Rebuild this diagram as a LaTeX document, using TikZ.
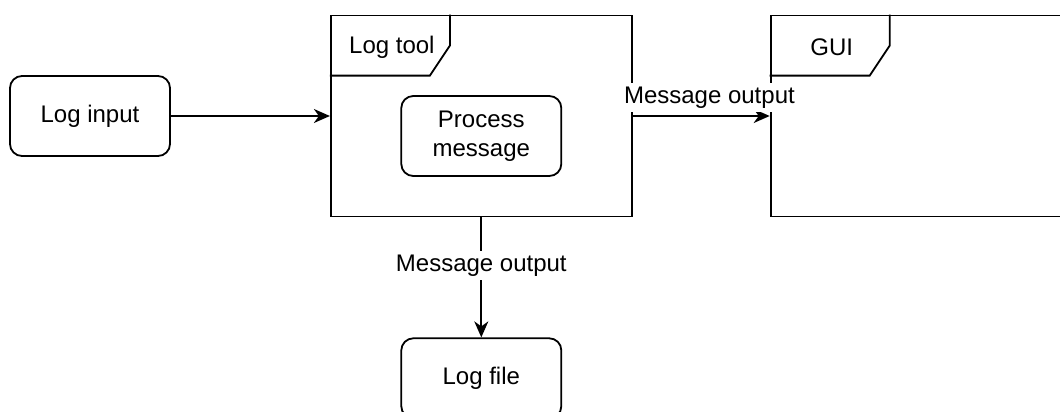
\documentclass[tikz,border=0pt]{standalone}
\usepackage{fontspec}
\setmainfont{Liberation Sans}
\usepackage{tikz}
\usetikzlibrary{arrows.meta,positioning}

\begin{document}
\begin{tikzpicture}[
  >={Stealth[length=8pt,width=7pt,inset=2.5pt]}, line width=0.9pt,
  font=\fontsize{12}{14.5}\selectfont,
  proc/.style={draw, rounded corners=6pt, minimum width=80pt, minimum height=40pt, align=center},
  sysframe/.style={draw, minimum width=150.5pt, minimum height=100.5pt},
  lbl/.style={fill=white, inner sep=2pt},
]
  \clip (0,0) rectangle (530pt,-206pt);

  \node[proc] (input) at (45pt,-58pt) {Log input};
  \node[sysframe, right=79.5pt of input] (tool) {};
  \node[proc] (process) at ([yshift=-10pt]tool.center) {Process\\message};
  \node[sysframe, right=68.5pt of tool] (gui) {};
  \node[proc, below=60pt of tool] (file) {Log file};

  % tabs in the top left corner of each frame
  \draw ([yshift=-30.5pt]tool.north west) -- ++(50pt,0) -- ++(10pt,15pt)
    -- ([xshift=60pt]tool.north west);
  \node (tooltab) at ([xshift=31pt,yshift=-16.5pt]tool.north west) {Log tool};
  \draw ([yshift=-30.5pt]gui.north west) -- ++(50pt,0) -- ++(10pt,15pt)
    -- ([xshift=60pt]gui.north west);
  \node (guitab) at ([xshift=31pt,yshift=-16.5pt]gui.north west) {GUI};

  \draw[->] (input) -- (tool);
  \draw[->] (tool) -- node[lbl, pos=0.56, above=1.5pt] {Message output} (gui);
  \draw[->] (tool) -- node[lbl, pos=0.4] {Message output} (file);
\end{tikzpicture}
\end{document}
